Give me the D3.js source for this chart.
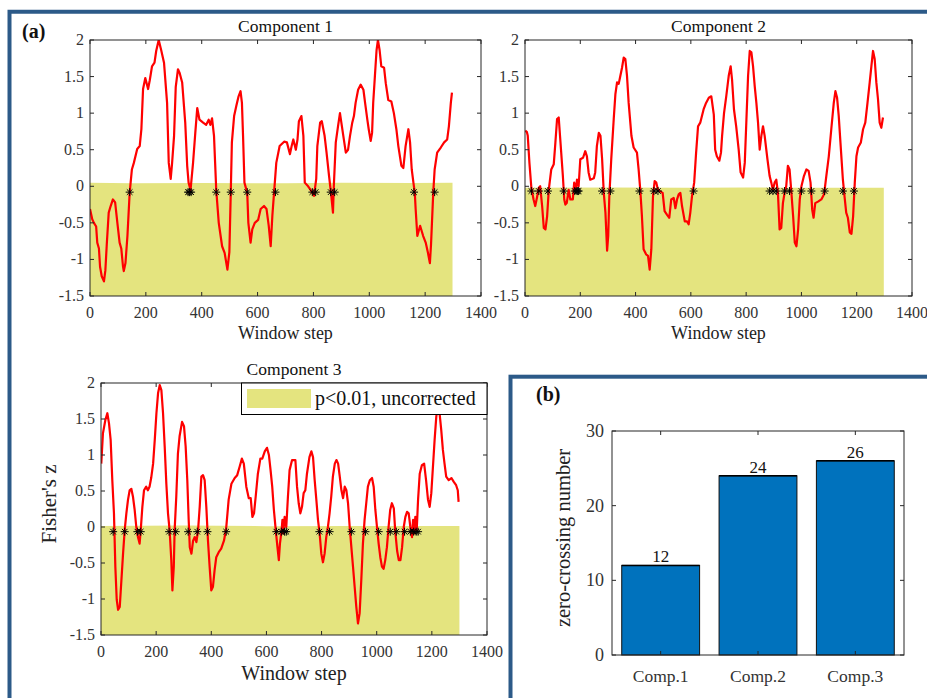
<!DOCTYPE html>
<html>
<head>
<meta charset="utf-8">
<script src="https://cdn.jsdelivr.net/npm/d3@7"></script>
<style>
  body { margin: 0; background: #fff; }
  text { font-family: "Liberation Serif", "Times New Roman", serif; }
</style>
</head>
<body>
<svg id="chart" width="927" height="698"></svg>
<script>
// Sliding-window Fisher's z traces as [window step, z]
const comp1 = [[0,-0.31],[8,-0.45],[14,-0.5],[22,-0.55],[26,-0.77],[32,-0.85],[36,-1.1],[42,-1.23],[50,-1.3],[55,-1.15],[60,-0.8],[67,-0.36],[74,-0.27],[82,-0.18],[90,-0.22],[98,-0.5],[106,-0.77],[112,-0.85],[118,-1.09],[121,-1.16],[127,-1.05],[134,-0.68],[142,-0.09],[150,0.23],[157,0.32],[169,0.51],[178,0.55],[184,0.78],[190,1.33],[198,1.48],[208,1.33],[214,1.45],[222,1.64],[231,1.69],[237,1.85],[246,2.0],[255,1.86],[265,1.69],[276,1.14],[282,0.32],[289,0.1],[294,0.32],[301,0.69],[307,1.36],[315,1.6],[321,1.55],[330,1.42],[341,0.87],[348,0.28],[353,0.05],[360,-0.05],[369,0.32],[377,0.73],[384,1.07],[392,0.91],[405,0.87],[416,0.84],[425,0.91],[431,0.84],[437,0.93],[444,0.69],[448,0.32],[452,-0.05],[461,-0.5],[473,-0.82],[482,-0.91],[492,-1.14],[499,-0.9],[504,-0.09],[508,0.6],[516,0.96],[524,1.1],[532,1.23],[539,1.3],[544,1.14],[548,0.69],[553,0.05],[563,-0.09],[567,-0.5],[575,-0.77],[581,-0.59],[590,-0.5],[602,-0.46],[611,-0.31],[623,-0.27],[632,-0.31],[640,-0.54],[647,-0.82],[653,-0.4],[659,-0.09],[667,0.32],[679,0.55],[695,0.61],[705,0.6],[716,0.44],[722,0.55],[728,0.64],[737,0.5],[743,0.64],[748,0.89],[757,0.96],[764,0.69],[769,0.05],[781,0.0],[790,-0.05],[802,-0.13],[810,0.1],[814,0.55],[824,0.87],[830,0.89],[840,0.69],[847,0.46],[856,0.14],[864,-0.13],[870,-0.36],[873,0.0],[880,0.6],[888,0.82],[895,1.0],[900,0.87],[907,0.69],[916,0.46],[924,0.5],[931,0.69],[939,0.87],[945,0.96],[951,1.14],[960,1.32],[969,1.39],[979,1.32],[985,1.14],[993,0.91],[998,0.78],[1005,0.62],[1010,0.73],[1014,1.14],[1020,1.5],[1026,1.86],[1031,2.0],[1037,1.86],[1043,1.64],[1053,1.62],[1059,1.41],[1068,1.18],[1079,1.16],[1088,1.0],[1097,0.78],[1104,0.55],[1115,0.28],[1122,0.25],[1130,0.55],[1140,0.78],[1146,0.6],[1152,0.23],[1158,0.05],[1163,-0.09],[1166,-0.31],[1172,-0.68],[1182,-0.54],[1193,-0.68],[1202,-0.77],[1210,-0.91],[1217,-1.05],[1221,-0.8],[1229,-0.09],[1234,0.23],[1243,0.46],[1256,0.53],[1268,0.6],[1279,0.64],[1285,0.82],[1292,1.14],[1296,1.28]];

const comp2 = [[1,0.76],[7,0.74],[10,0.69],[16,0.32],[23,-0.02],[31,-0.18],[37,-0.27],[43,-0.16],[50,-0.02],[55,0.0],[62,-0.27],[68,-0.57],[74,-0.59],[80,-0.41],[86,-0.05],[95,0.23],[104,0.3],[110,0.6],[116,0.92],[122,0.94],[125,0.78],[131,0.46],[137,0.14],[142,-0.18],[146,-0.25],[151,-0.23],[158,-0.05],[164,-0.18],[173,-0.18],[178,0.05],[184,-0.05],[188,0.09],[194,0.0],[200,0.37],[210,0.39],[218,0.48],[224,0.41],[230,0.19],[236,0.09],[249,0.11],[254,0.19],[260,0.55],[267,0.73],[273,0.69],[279,0.37],[285,-0.09],[291,-0.36],[297,-0.88],[301,-0.68],[305,-0.14],[312,0.37],[321,0.92],[327,1.26],[333,1.42],[339,1.4],[345,1.51],[351,1.62],[357,1.76],[363,1.74],[369,1.51],[375,1.14],[385,0.69],[393,0.53],[405,0.46],[411,0.23],[417,-0.05],[423,-0.41],[429,-0.86],[438,-0.93],[445,-0.95],[451,-1.14],[457,-0.86],[463,-0.14],[469,0.07],[475,0.05],[481,-0.05],[489,-0.07],[498,-0.09],[505,-0.34],[514,-0.39],[522,-0.43],[529,-0.18],[538,-0.16],[544,-0.3],[550,-0.18],[556,-0.11],[562,-0.09],[568,-0.27],[578,-0.48],[586,-0.48],[592,-0.52],[598,-0.36],[604,-0.14],[612,0.05],[619,0.46],[626,0.82],[634,0.87],[646,1.05],[655,1.14],[665,1.21],[674,1.23],[683,0.98],[688,0.5],[694,0.41],[703,0.35],[709,0.46],[713,0.69],[720,1.0],[728,1.23],[737,1.51],[744,1.64],[749,1.46],[756,1.05],[764,0.82],[773,0.5],[780,0.19],[789,0.12],[795,0.32],[801,0.91],[807,1.51],[813,1.85],[819,1.83],[825,1.64],[831,1.37],[837,1.14],[843,0.87],[849,0.5],[855,0.69],[861,0.82],[867,0.69],[877,0.37],[885,0.14],[891,0.05],[897,-0.05],[903,0.05],[909,0.09],[915,-0.09],[921,-0.59],[927,-0.57],[933,-0.23],[939,-0.09],[945,0.0],[951,0.28],[957,0.23],[963,-0.05],[970,-0.41],[976,-0.77],[982,-0.82],[988,-0.59],[994,-0.18],[1000,0.0],[1009,0.14],[1018,0.23],[1026,0.21],[1033,0.05],[1039,-0.32],[1044,-0.43],[1050,-0.23],[1060,-0.21],[1072,-0.18],[1082,-0.11],[1090,0.14],[1099,0.41],[1108,0.78],[1117,1.14],[1123,1.3],[1129,1.21],[1135,0.96],[1142,0.55],[1150,0.09],[1156,-0.14],[1162,-0.36],[1168,-0.43],[1175,-0.63],[1181,-0.65],[1187,-0.41],[1193,0.05],[1199,0.41],[1205,0.53],[1215,0.6],[1223,0.78],[1231,0.87],[1239,1.14],[1247,1.42],[1253,1.64],[1259,1.85],[1265,1.74],[1271,1.42],[1277,1.19],[1283,0.87],[1289,0.8],[1295,0.94]];

const comp3 = [[1,0.88],[7,1.3],[16,1.49],[23,1.58],[29,1.44],[35,1.21],[41,0.65],[47,0.19],[52,-0.55],[57,-1.01],[62,-1.15],[68,-1.11],[74,-0.74],[80,-0.37],[86,-0.04],[92,0.19],[98,0.38],[104,0.51],[110,0.53],[116,0.42],[122,0.24],[128,0.0],[134,-0.14],[140,-0.23],[144,-0.05],[150,0.28],[156,0.51],[164,0.56],[170,0.51],[176,0.56],[182,0.68],[189,0.88],[195,1.21],[201,1.58],[207,1.86],[213,1.97],[219,1.9],[225,1.58],[231,1.12],[237,0.6],[243,0.19],[249,-0.05],[255,-0.46],[259,-0.88],[264,-0.55],[267,-0.05],[273,0.42],[279,1.02],[285,1.26],[294,1.46],[301,1.4],[307,1.12],[313,0.65],[318,0.1],[322,-0.28],[328,-0.37],[334,-0.19],[340,-0.14],[346,-0.21],[352,-0.05],[358,0.28],[364,0.7],[370,0.72],[376,0.65],[382,0.28],[388,-0.19],[394,-0.55],[400,-0.88],[406,-0.83],[412,-0.6],[418,-0.42],[427,-0.35],[436,-0.3],[446,-0.19],[454,-0.02],[463,0.38],[473,0.6],[485,0.68],[494,0.72],[503,0.84],[511,0.95],[518,0.88],[527,0.56],[536,0.4],[543,0.4],[549,0.14],[555,0.19],[561,0.42],[569,0.74],[578,0.95],[585,0.95],[594,1.05],[602,1.1],[609,1.0],[615,0.79],[621,0.56],[627,0.24],[634,-0.05],[640,-0.28],[645,-0.46],[649,-0.23],[655,-0.05],[658,0.1],[661,-0.09],[666,0.14],[672,0.0],[678,0.42],[684,0.79],[693,0.93],[705,0.93],[711,0.56],[717,0.33],[723,0.19],[729,0.28],[735,0.47],[741,0.51],[747,0.74],[756,0.97],[763,1.05],[769,0.97],[775,0.65],[781,0.38],[787,0.1],[793,-0.09],[799,-0.37],[805,-0.49],[811,-0.37],[817,-0.14],[823,0.0],[829,0.19],[835,0.42],[841,0.7],[848,0.88],[854,0.93],[860,0.88],[866,0.7],[872,0.51],[878,0.4],[884,0.56],[890,0.51],[896,0.33],[902,0.0],[908,-0.28],[914,-0.55],[920,-0.83],[926,-1.11],[932,-1.34],[938,-1.2],[944,-0.74],[950,-0.23],[956,0.1],[962,0.33],[968,0.56],[975,0.65],[983,0.68],[989,0.56],[995,0.24],[1001,0.0],[1007,-0.23],[1013,-0.42],[1019,-0.55],[1025,-0.58],[1031,-0.46],[1037,-0.28],[1043,0.0],[1049,0.24],[1055,0.33],[1062,0.26],[1067,-0.05],[1074,-0.33],[1080,-0.46],[1086,-0.46],[1092,-0.28],[1098,0.0],[1104,0.14],[1110,0.21],[1116,0.19],[1122,0.0],[1128,-0.14],[1132,0.1],[1136,-0.09],[1140,0.14],[1145,-0.05],[1150,0.38],[1156,0.74],[1164,0.86],[1172,0.88],[1179,0.65],[1186,0.38],[1192,0.28],[1198,0.47],[1204,0.84],[1210,1.21],[1216,1.53],[1222,1.7],[1228,1.58],[1234,1.35],[1240,1.07],[1246,0.88],[1252,0.7],[1261,0.65],[1271,0.68],[1279,0.63],[1288,0.58],[1294,0.51],[1297,0.35]];

// Upper edge of the p<0.01 region, [window step, z]
const thresh1 = [[0,0.05],[150,0.04],[400,0.045],[700,0.04],[900,0.05],[1150,0.045],[1298,0.05]];
const thresh2 = [[0,-0.02],[300,-0.015],[600,-0.02],[800,-0.015],[1000,-0.02],[1298,-0.02]];
const thresh3 = [[0,0.015],[300,0.02],[600,0.012],[900,0.015],[1300,0.015]];

// Zero-crossing markers (window step)
const stars1 = [142,351,356,362,452,504,563,664,796,808,862,876,1160,1234];
const stars2 = [23,50,83,140,180,188,191,194,279,309,414,466,481,610,885,897,909,939,957,1000,1036,1084,1150,1190];
const stars3 = [44,86,132,144,247,271,316,349,386,454,636,654,666,672,792,829,908,959,1007,1049,1071,1101,1122,1134,1143,1150];

// Axis ticks
const xTicks = [0,200,400,600,800,1000,1200,1400];
const yTicks = [-1.5,-1,-0.5,0,0.5,1,1.5,2];

// Panel (b): zero-crossing counts
const categories = ["Comp.1","Comp.2","Comp.3"];
const counts = [12,24,26];
const barTicks = [0,10,20,30];

const svg = d3.select("#chart");
const frameColor = "#2c5a88";
const axisColor = "#262626";
const labelColor = "#333";
const fillColor = "#e4e47f";

// Panel (a) frame, runs off the right and bottom of the image
svg.append("path")
  .attr("d", "M9.5,698 V11.7 H927")
  .attr("fill", "none")
  .attr("stroke", frameColor)
  .attr("stroke-width", 4);

svg.append("text").attr("x", 22).attr("y", 38)
  .attr("font-size", 20).attr("font-weight", "bold").attr("fill", "#111").text("(a)");

// Matlab style '*' marker
const starPath = (cx, cy, r) => {
  const d = r * 0.7;
  return `M${cx - r},${cy}h${2 * r}M${cx},${cy - r}v${2 * r}` +
    `M${cx - d},${cy - d}l${2 * d},${2 * d}M${cx - d},${cy + d}l${2 * d},${-2 * d}`;
};

// Draws a box with inward ticks on all four sides
const drawBox = (g, x, y, xT, yT) => {
  const [x0, x1] = x.range(), [y0, y1] = y.range();
  const tl = 4;
  g.append("rect").attr("x", x0).attr("y", y1).attr("width", x1 - x0).attr("height", y0 - y1)
    .attr("fill", "none").attr("stroke", axisColor).attr("stroke-width", 1);
  xT.forEach(t => {
    const px = x(t);
    g.append("path").attr("d", `M${px},${y0}v${-tl}M${px},${y1}v${tl}`).attr("stroke", axisColor);
  });
  yT.forEach(t => {
    const py = y(t);
    g.append("path").attr("d", `M${x0},${py}h${tl}M${x1},${py}h${-tl}`).attr("stroke", axisColor);
  });
};

function drawComponent(opt) {
  const x = d3.scaleLinear().domain([0, 1400]).range([opt.left, opt.right]);
  const y = d3.scaleLinear().domain([-1.5, 2]).range([opt.bottom, opt.top]);
  const g = svg.append("g");

  const clipId = "clip" + opt.id;
  g.append("clipPath").attr("id", clipId)
    .append("rect").attr("x", opt.left).attr("y", opt.top)
    .attr("width", opt.right - opt.left).attr("height", opt.bottom - opt.top);

  // significance region
  g.append("path")
    .datum(opt.thresh)
    .attr("fill", fillColor)
    .attr("d", d3.area().x(d => x(d[0])).y0(y(-1.5)).y1(d => y(d[1])));

  // trace
  g.append("path")
    .datum(opt.data)
    .attr("clip-path", `url(#${clipId})`)
    .attr("fill", "none")
    .attr("stroke", "#ff0000")
    .attr("stroke-width", 2.2)
    .attr("stroke-linejoin", "round")
    .attr("d", d3.line().x(d => x(d[0])).y(d => y(d[1])));

  // zero crossings
  g.append("g").selectAll("path")
    .data(opt.stars)
    .enter()
    .append("path")
    .attr("d", d => starPath(x(d), y(opt.starY), 4))
    .attr("stroke", "#000")
    .attr("stroke-width", 1)
    .attr("fill", "none");

  drawBox(g, x, y, xTicks, yTicks);

  g.append("g").selectAll("text").data(xTicks).enter().append("text")
    .attr("x", d => x(d)).attr("y", opt.bottom + 22)
    .attr("text-anchor", "middle").attr("font-size", opt.tickSize).attr("fill", labelColor)
    .text(d => d);

  g.append("g").selectAll("text").data(yTicks).enter().append("text")
    .attr("x", opt.left - 6).attr("y", d => y(d) + 5)
    .attr("text-anchor", "end").attr("font-size", opt.tickSize).attr("fill", labelColor)
    .text(d => String(d));

  g.append("text").attr("x", (opt.left + opt.right) / 2).attr("y", opt.top - 8)
    .attr("text-anchor", "middle").attr("font-size", 17.5).attr("fill", "#111")
    .text(opt.title);

  g.append("text").attr("x", (opt.left + opt.right) / 2).attr("y", opt.bottom + opt.xlabOff)
    .attr("text-anchor", "middle").attr("font-size", opt.xlabSize).attr("fill", "#222")
    .text("Window step");

  return {x, y, g};
}

drawComponent({id: 1, title: "Component 1", data: comp1, thresh: thresh1, stars: stars1, starY: -0.08,
  left: 90, right: 481, top: 40, bottom: 296, tickSize: 16, xlabSize: 18, xlabOff: 43});
drawComponent({id: 2, title: "Component 2", data: comp2, thresh: thresh2, stars: stars2, starY: -0.065,
  left: 525, right: 912, top: 40, bottom: 296, tickSize: 16, xlabSize: 18, xlabOff: 43});
drawComponent({id: 3, title: "Component 3", data: comp3, thresh: thresh3, stars: stars3, starY: -0.065,
  left: 101, right: 487, top: 383, bottom: 635, tickSize: 16, xlabSize: 20, xlabOff: 45});

// y label for panel (a)
svg.append("text")
  .attr("transform", "translate(56,504) rotate(-90)")
  .attr("text-anchor", "middle").attr("font-size", 21).attr("fill", "#222")
  .text("Fisher's z");

// legend in component 3
const lg = svg.append("g");
lg.append("rect").attr("x", 241.5).attr("y", 383).attr("width", 245.5).attr("height", 31.5)
  .attr("fill", "#fff").attr("stroke", "#000").attr("stroke-width", 1);
lg.append("rect").attr("x", 247).attr("y", 389).attr("width", 64).attr("height", 19).attr("fill", fillColor);
lg.append("text").attr("x", 315).attr("y", 405).attr("font-size", 20).attr("fill", "#111")
  .text("p<0.01, uncorrected");

// Panel (b)
const pb = svg.append("g");
pb.append("rect").attr("x", 510.5).attr("y", 376.7).attr("width", 430).attr("height", 340)
  .attr("fill", "#fff").attr("stroke", frameColor).attr("stroke-width", 4);
pb.append("text").attr("x", 536).attr("y", 401)
  .attr("font-size", 20).attr("font-weight", "bold").attr("fill", "#111").text("(b)");

const bx = d3.scaleBand().domain(categories).range([612, 904]).paddingInner(0.2).paddingOuter(0.1);
const by = d3.scaleLinear().domain([0, 30]).range([655, 431]);

pb.append("g").selectAll("rect")
  .data(counts)
  .enter()
  .append("rect")
  .attr("x", (d, i) => bx(categories[i]))
  .attr("y", d => by(d))
  .attr("width", bx.bandwidth())
  .attr("height", d => by(0) - by(d))
  .attr("fill", "#0072bd")
  .attr("stroke", "#111")
  .attr("stroke-width", 1);

// darker top edges of the bars
pb.append("g").selectAll("path")
  .data(counts)
  .enter()
  .append("path")
  .attr("d", (d, i) => `M${bx(categories[i])},${by(d)}h${bx.bandwidth()}`)
  .attr("stroke", "#000")
  .attr("stroke-width", 1.5);

pb.append("g").selectAll("text")
  .data(counts)
  .enter()
  .append("text")
  .attr("x", (d, i) => bx(categories[i]) + bx.bandwidth() / 2)
  .attr("y", d => by(d) - 3)
  .attr("text-anchor", "middle").attr("font-size", 17).attr("fill", "#111")
  .text(d => d);

// category positions as a linear scale so the box helper can place ticks at band centres
const catPos = d3.scaleLinear().domain([-0.5, 2.5]).range([612, 904]);
drawBox(pb, catPos, by, [0, 1, 2], barTicks);

pb.append("g").selectAll("text").data(barTicks).enter().append("text")
  .attr("x", 604).attr("y", d => by(d) + 6)
  .attr("text-anchor", "end").attr("font-size", 18).attr("fill", labelColor)
  .text(d => d);

pb.append("g").selectAll("text").data(categories).enter().append("text")
  .attr("x", d => bx(d) + bx.bandwidth() / 2).attr("y", 682)
  .attr("text-anchor", "middle").attr("font-size", 17.5).attr("fill", labelColor)
  .text(d => d);

pb.append("text")
  .attr("transform", "translate(570,538) rotate(-90)")
  .attr("text-anchor", "middle").attr("font-size", 20.5).attr("fill", "#222")
  .text("zero-crossing number");
</script>
</body>
</html>
